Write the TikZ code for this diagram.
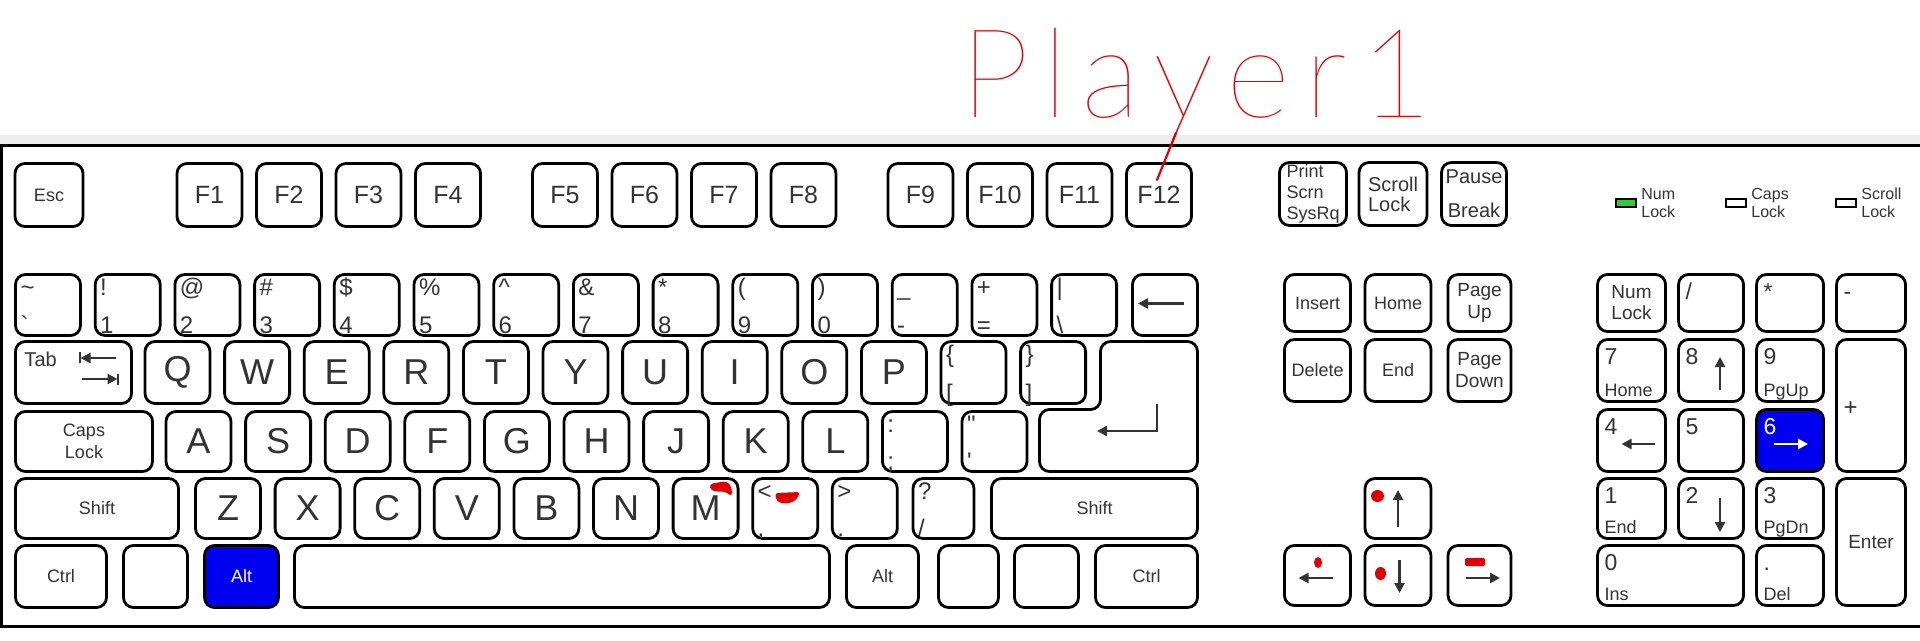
\documentclass[tikz,border=0pt]{standalone}
\usepackage{fontspec}
\setmainfont{Liberation Sans}
\IfFontExistsTF{FiraSans-Thin.otf}
    {\newfontfamily\maofont[LetterSpace=11]{FiraSans-Thin.otf}}
    {\IfFontExistsTF{Lato-Hairline.ttf}
        {\newfontfamily\maofont[LetterSpace=11]{Lato-Hairline.ttf}}
        {\newfontfamily\maofont[LetterSpace=11]{DejaVu Sans}}}
\usetikzlibrary{
    positioning,
    arrows.meta
}
\definecolor{Tinta}{HTML}{333333}
\definecolor{AzulTecla}{HTML}{0000F0}
\definecolor{VerdeLed}{HTML}{33CC33}
\definecolor{Rabisco}{HTML}{E00000}
\definecolor{Faixa}{HTML}{EEEEEE}

\tikzset{
    tecla/.style={
        draw,
        line width=1.4pt,
        rounded corners=5pt,
        fill=white,
        text=Tinta,
        inner sep=0pt,
        align=center,
        font=\fontsize{9}{11}\selectfont
    },
    tam/.style 2 args={minimum width=(#1-3)*0.5pt, minimum height=(#2-3)*0.5pt},
    letra/.style={font=\fontsize{18}{18}\selectfont},
    fkey/.style={font=\fontsize{12.5}{12.5}\selectfont},
    azul/.style={fill=AzulTecla, text=white},
    tcima/.style={label={[anchor=base west, inner sep=0pt, xshift=3pt, yshift=-11pt,
        font=\fontsize{12}{12}\selectfont]north west:{#1}}},
    tbaixo/.style={label={[anchor=base west, inner sep=0pt, xshift=3pt, yshift=1.5pt,
        font=\fontsize{12}{12}\selectfont]south west:{#1}}},
    ncima/.style={label={[anchor=base west, inner sep=0pt, xshift=4pt, yshift=-13pt,
        font=\fontsize{11.5}{11.5}\selectfont]north west:{#1}}},
    nbaixo/.style={label={[anchor=base west, inner sep=0pt, xshift=4pt, yshift=3pt,
        font=\fontsize{9}{9}\selectfont]south west:{#1}}},
    seta/.style={line width=1.4pt, draw=Tinta, -{Triangle[length=5pt, width=5pt]}},
    led/.style={draw, line width=1.2pt, minimum width=9.8pt, minimum height=3.8pt, inner sep=0pt},
    ledtxt/.style={inner sep=0pt, align=left, font=\fontsize{8}{9}\selectfont}
}

\begin{document}
\begin{tikzpicture}[x=0.5pt, y=-0.5pt, text=Tinta]

    \useasboundingbox (0,0) rectangle (1920,641);
    \fill[white] (0,0) rectangle (1920,641);
    \fill[Faixa] (0,135) rectangle (1920,145);
    \draw[line width=1.5pt] (1930,146) -- (1.5,146) -- (1.5,626) -- (1930,626);

    \node[tecla, tam={71}{66}] (esc) at (49,195) {Esc};
    \foreach \i in {1,...,12}
        \node[tecla, tam={68}{66}, fkey] (f\i) at ({209.5+79.5*(\i-1)+37.5*int((\i-1)/4)},195) {F\i};

    \foreach \cima/\baixo [count=\i from 0] in {\textasciitilde/\textasciigrave, !/1, @/2, \#/3,
        \$/4, \%/5, \textasciicircum/6, \&/7, */8, {(}/9, {)}/0, \_/-, +/=, |/\textbackslash}
        \node[tecla, tam={68}{64}, tcima=\cima, tbaixo=\baixo] (n\i) at ({48+79.7*\i},305) {};
    \node[tecla, tam={68}{64}] (bksp) at (1165,305) {};
    \draw[seta] ([shift={(19,-1.5)}]bksp.center) -- ([shift={(-27,-1.5)}]bksp.center);

    \node[tecla, tam={119}{65},
        label={[anchor=base west, inner sep=0pt, xshift=5pt, yshift=-13pt]north west:Tab}]
        (tab) at (73.5,372.5) {};
    \draw[seta] ([shift={(42.5,-14.5)}]tab.center) -- ([shift={(7,-14.5)}]tab.center);
    \draw[line width=1.4pt, Tinta] ([shift={(6.5,-20)}]tab.center) -- ([shift={(6.5,-9)}]tab.center);
    \draw[seta] ([shift={(8.5,6.5)}]tab.center) -- ([shift={(44,6.5)}]tab.center);
    \draw[line width=1.4pt, Tinta] ([shift={(44.5,1)}]tab.center) -- ([shift={(44.5,12)}]tab.center);
    \foreach \l [count=\i from 0] in {Q,W,E,R,T,Y,U,I,O,P}
        \node[tecla, tam={68}{65}, letra] (\l) at ({177.5+79.6*\i},372.5) {\l};
    \node[tecla, tam={68}{65}, tcima=\{, tbaixo={[}] (chaveA) at (973.5,372.5) {};
    \node[tecla, tam={68}{65}, tcima=\}, tbaixo={]}] (chaveF) at (1053.1,372.5) {};
    \draw[line width=1.4pt, rounded corners=5pt, fill=white]
        (1100.5,341.5) -- (1197.5,341.5) -- (1197.5,471.5) -- (1039.5,471.5)
        -- (1039.5,409.5) -- (1100.5,409.5) -- cycle;
    \draw[seta] (1157,404) |- (1097,431);

    \node[tecla, tam={140}{63}] (caps) at (84,441.5) {Caps\\Lock};
    \foreach \l [count=\i from 0] in {A,S,D,F,G,H,J,K,L}
        \node[tecla, tam={68}{63}, letra] (\l) at ({198.5+79.6*\i},441.5) {\l};
    \node[tecla, tam={68}{63}, tcima=:, tbaixo=;] (pontovirg) at (914.9,441.5) {};
    \node[tecla, tam={68}{63}, tcima=\textquotedbl, tbaixo=\textquotesingle] (aspas) at (994.5,441.5) {};

    \node[tecla, tam={166}{63}] (shiftE) at (97,508.5) {Shift};
    \foreach \l [count=\i from 0] in {Z,X,C,V,B,N,M}
        \node[tecla, tam={68}{63}, letra] (\l) at ({228+79.6*\i},508.5) {\l};
    \node[tecla, tam={68}{63}, tcima=<, tbaixo={,}] (virgula) at (785.2,508.5) {};
    \node[tecla, tam={68}{63}, tcima=>, tbaixo=.] (ponto) at (864.8,508.5) {};
    \node[tecla, tam={64}{63}, tcima=?, tbaixo=/] (barra) at (943.5,508.5) {};
    \node[tecla, tam={209}{63}] (shiftD) at (1094.5,508.5) {Shift};

    \node[tecla, tam={94}{65}] (ctrlE) at (61,576.5) {Ctrl};
    \node[tecla, tam={67}{65}] (winE) at (155.5,576.5) {};
    \node[tecla, tam={77}{65}, azul] (altE) at (241.5,576.5) {Alt};
    \node[tecla, tam={538}{65}] (espaco) at (562,576.5) {};
    \node[tecla, tam={75}{65}] (altD) at (882.5,576.5) {Alt};
    \node[tecla, tam={63}{65}] (winD) at (968.5,576.5) {};
    \node[tecla, tam={67}{65}] (menu) at (1046.5,576.5) {};
    \node[tecla, tam={105}{65}] (ctrlD) at (1146.5,576.5) {Ctrl};

    \node[tecla, tam={70}{66}, align=left, font=\fontsize{9}{10.5}\selectfont] (prtsc) at (1313,194) {Print\\Scrn\\SysRq};
    \node[tecla, tam={71}{66}, align=left, font=\fontsize{10}{10}\selectfont] (scrlk) at (1393,194) {Scroll\\Lock};
    \node[tecla, tam={68}{66}, font=\fontsize{10}{10}\selectfont] (pausa) at (1474,194) {Pause\\[7pt]Break};

    \node[led, fill=VerdeLed] (ledNum) at (1626,203) {};
    \node[ledtxt, right=2pt of ledNum] (rotNum) {Num\\Lock};
    \node[led, fill=white] (ledCaps) at (1736,203) {};
    \node[ledtxt, right=2pt of ledCaps] (rotCaps) {Caps\\Lock};
    \node[led, fill=white] (ledScroll) at (1846,203) {};
    \node[ledtxt, right=2pt of ledScroll] (rotScroll) {Scroll\\Lock};

    \node[tecla, tam={69}{60}] (ins) at (1317.5,303) {Insert};
    \node[tecla, tam={69}{60}] (home) at (1398,303) {Home};
    \node[tecla, tam={66}{60}, font=\fontsize{9.5}{11}\selectfont] (pgup) at (1479.5,303) {Page\\Up};
    \node[tecla, tam={69}{65}] (del) at (1317.5,370.5) {Delete};
    \node[tecla, tam={69}{65}] (fim) at (1398,370.5) {End};
    \node[tecla, tam={66}{65}, font=\fontsize{9.5}{11}\selectfont] (pgdn) at (1479.5,370.5) {Page\\Down};

    \node[tecla, tam={69}{63}] (cima) at (1398,508.5) {};
    \node[tecla, tam={69}{63}] (esq) at (1317.5,575.5) {};
    \node[tecla, tam={69}{63}] (baixo) at (1398,575.5) {};
    \node[tecla, tam={66}{63}] (dir) at (1479.5,575.5) {};
    \draw[seta] ([shift={(0,18.5)}]cima.center) -- ([shift={(0,-18.5)}]cima.center);
    \draw[seta] ([shift={(15,2.5)}]esq.center) -- ([shift={(-19,2.5)}]esq.center);
    \draw[seta] ([shift={(1.5,-15.5)}]baixo.center) -- ([shift={(1.5,17.5)}]baixo.center);
    \draw[seta] ([shift={(-14,2.5)}]dir.center) -- ([shift={(20.5,2.5)}]dir.center);

    \node[tecla, tam={71}{60}, font=\fontsize{9.5}{10.5}\selectfont] (numlk) at (1631.5,303) {Num\\Lock};
    \node[tecla, tam={68}{60}, ncima=/] (npbarra) at (1711,303) {};
    \node[tecla, tam={70}{60}, ncima=*] (npvezes) at (1790,303) {};
    \node[tecla, tam={72}{60}, ncima=-] (npmenos) at (1871,303) {};
    \node[tecla, tam={71}{65}, ncima=7, nbaixo=Home] (np7) at (1631.5,370.5) {};
    \node[tecla, tam={68}{65}, ncima=8] (np8) at (1711,370.5) {};
    \node[tecla, tam={70}{65}, ncima=9, nbaixo=PgUp] (np9) at (1790,370.5) {};
    \node[tecla, tam={72}{135},
        label={[anchor=west, inner sep=0pt, xshift=4pt, yshift=-1.75pt, font=\fontsize{12}{12}\selectfont]west:+}]
        (npmais) at (1871,405.5) {};
    \node[tecla, tam={71}{65}, ncima=4] (np4) at (1631.5,440.5) {};
    \node[tecla, tam={68}{65}, ncima=5] (np5) at (1711,440.5) {};
    \node[tecla, tam={70}{65}, azul, ncima={\textcolor{white}{6}}] (np6) at (1790,440.5) {};
    \node[tecla, tam={71}{63}, ncima=1, nbaixo=End] (np1) at (1631.5,508.5) {};
    \node[tecla, tam={68}{63}, ncima=2] (np2) at (1711,508.5) {};
    \node[tecla, tam={70}{63}, ncima=3, nbaixo=PgDn] (np3) at (1790,508.5) {};
    \node[tecla, tam={72}{130}, font=\fontsize{9.5}{11}\selectfont] (npenter) at (1871,542) {Enter};
    \node[tecla, tam={149}{63}, ncima=0, nbaixo=Ins] (np0) at (1670.5,575.5) {};
    \node[tecla, tam={70}{63}, ncima=., nbaixo=Del] (npponto) at (1790,575.5) {};
    \draw[seta] ([shift={(9,19.5)}]np8.center) -- ([shift={(9,-13.5)}]np8.center);
    \draw[seta] ([shift={(23,3.5)}]np4.center) -- ([shift={(-10,3.5)}]np4.center);
    \draw[seta, draw=white] ([shift={(-16,3.5)}]np6.center) -- ([shift={(18,3.5)}]np6.center);
    \draw[seta] ([shift={(9,-10.5)}]np2.center) -- ([shift={(9,23.5)}]np2.center);

    \fill[Rabisco, rounded corners=2pt] (709,484) -- (727,481) -- (732,488) -- (732,497)
        -- (727,492) -- (711,491) -- cycle;
    \fill[Rabisco, rounded corners=1.5pt] (775,493) -- (800,492) -- (797,499) -- (791,503)
        -- (779,503) -- (776,499) -- cycle;
    \fill[Rabisco] (1377.5,496) ellipse [x radius=3.25pt, y radius=3pt];
    \fill[Rabisco] (1318,562.5) ellipse [x radius=2pt, y radius=2.75pt];
    \fill[Rabisco] (1380.5,573.5) ellipse [x radius=2.75pt, y radius=3.25pt];
    \fill[Rabisco, rounded corners=1pt] (1465,558) rectangle (1485,566);

    \node[anchor=base west, inner sep=0pt, text=Rabisco,
        font=\maofont\fontsize{62}{62}\selectfont] (jogador) at (960,118) {Player1};
    \draw[Rabisco, line width=1.1pt, line cap=round] (1176,133) -- (1157,180);

\end{tikzpicture}
\end{document}
